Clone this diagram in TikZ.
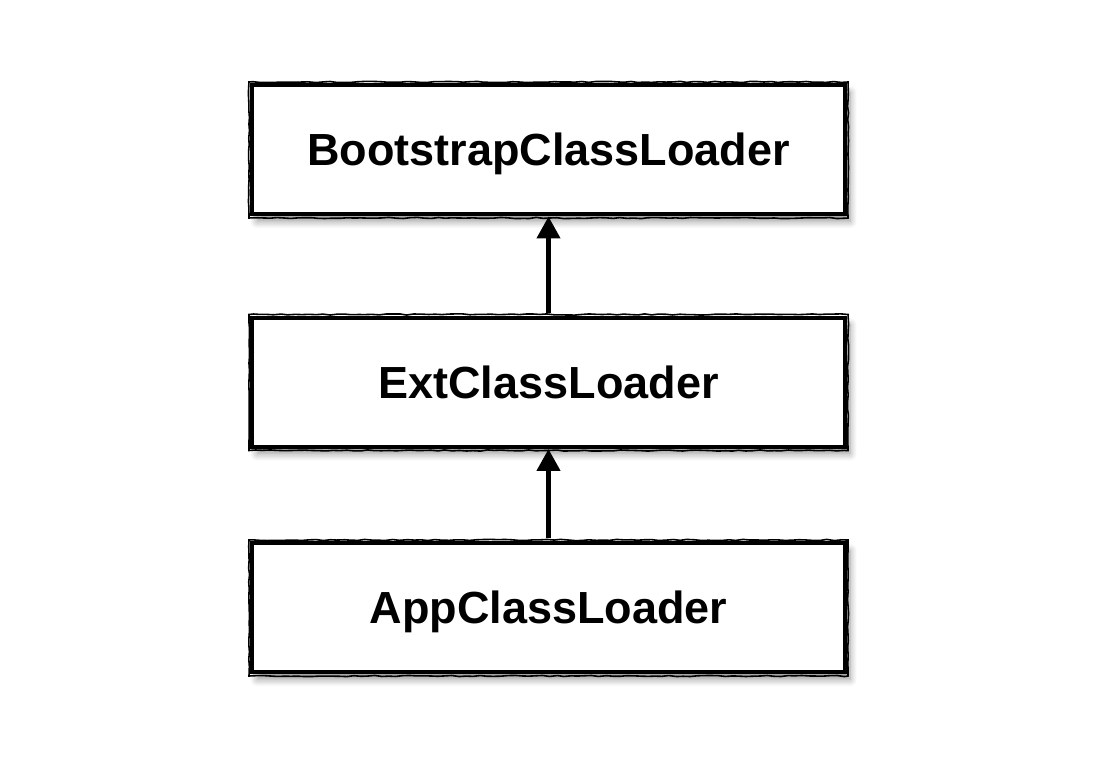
\documentclass[tikz,border=0pt]{standalone}
\usepackage{fontspec}
\setmainfont{Liberation Sans}
\usetikzlibrary{arrows.meta,shadows.blur,decorations.pathmorphing}
\tikzset{
  loaderbox/.style={draw=black, line width=4pt, fill=white, minimum width=593pt, minimum height=129pt,
    inner sep=0pt, text height=32pt, text depth=0pt, font=\fontsize{45}{54}\selectfont\bfseries,
    blur shadow={shadow xshift=5pt, shadow yshift=-7pt, shadow blur steps=8, shadow blur radius=7pt, shadow opacity=40}},
  roughedge/.style={draw=black, line width=1.6pt, decorate, decoration={random steps, segment length=7pt, amplitude=0.6pt}},
  uparrow/.style={line width=4.5pt, -{Triangle[width=23pt,length=22pt]}, shorten <=3pt}
}
\begin{document}
\begin{tikzpicture}[x=1pt,y=1pt]
\useasboundingbox (0,0) rectangle (1114,766);
\node[loaderbox] (boot) at (548.5,616) {BootstrapClassLoader};
\node[loaderbox] (ext) at (548.5,383.5) {ExtClassLoader};
\node[loaderbox] (app) at (548.5,158) {AppClassLoader};
\foreach \n in {boot,ext,app}{
  \draw[roughedge] ([xshift=-1pt,yshift=1.5pt]\n.north west) rectangle ([xshift=1pt,yshift=-1.5pt]\n.south east);
}
\draw[uparrow] (ext.north) -- (boot.south);
\draw[uparrow] (app.north) -- (ext.south);
\end{tikzpicture}
\end{document}
